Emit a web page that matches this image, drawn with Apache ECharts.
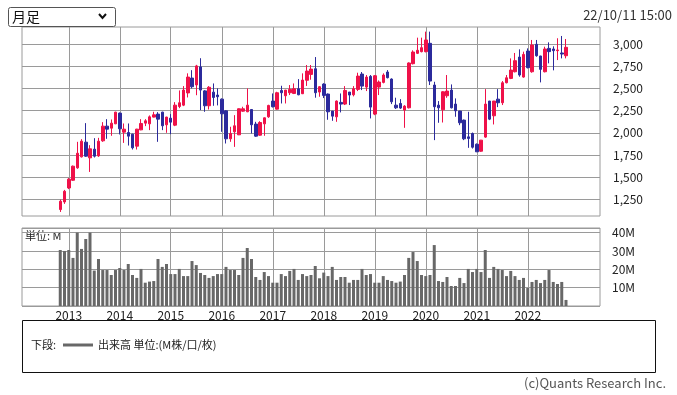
<!DOCTYPE html>
<html><head><meta charset="utf-8">
<script src="https://cdn.jsdelivr.net/npm/echarts@6/dist/echarts.min.js"></script>
<style>html,body{margin:0;padding:0;background:#fff}#c{width:677px;height:395px}</style>
</head><body><div id="c"></div>
<script>
function ymLabel(start, k) {
  const t = start[0] * 12 + (start[1] - 1) + k;
  return Math.floor(t / 12) + '/' + String(t % 12 + 1).padStart(2, '0');
}
// Axis categories (monthly), data months (Nov 2012 - Oct 2022)
const axisMonths = Array.from({length: 137}, (_, k) => ymLabel([2012, 2], k));
const dataMonths = Array.from({length: 120}, (_, i) => ymLabel([2012, 11], i));
const yearTicks = ['2013','2014','2015','2016','2017','2018','2019','2020','2021','2022'];

const openP = [1134,1220,1378,1465,1605,1729,1895,1718,1816,1740,
1910,2076,2053,2102,2223,2008,2004,1985,1850,2034,
2110,2102,2178,2212,2234,2091,2166,2087,2298,2313,
2451,2619,2541,2745,2474,2306,2460,2427,2381,2249,
1933,2012,1978,2245,2238,2264,2099,1974,2102,2181,
2359,2268,2479,2419,2453,2445,2498,2442,2594,2660,
2724,2461,2551,2438,2246,2181,2344,2325,2461,2430,
2491,2664,2517,2638,2212,2517,2570,2687,2608,2313,
2332,2257,2283,2781,2898,2917,2917,3011,2540,2313,
2261,2419,2483,2325,2246,2144,1955,1993,1872,1793,
1952,2359,2193,2381,2340,2566,2615,2690,2856,2630,
2924,2690,3000,2868,2690,2954,2947,2928,2902,2871];
const closeP = [1228,1341,1477,1624,1770,1906,1737,1820,1737,1906,
2076,2042,2110,2234,2046,2042,1963,1831,2042,2106,
2136,2181,2204,2155,2080,2178,2121,2313,2340,2483,
2630,2521,2756,2483,2306,2515,2400,2408,2215,1933,
1993,2080,2272,2272,2313,2091,1963,2117,2170,2310,
2295,2453,2453,2483,2491,2498,2430,2596,2698,2720,
2453,2521,2423,2238,2189,2359,2325,2479,2427,2498,
2641,2528,2630,2291,2645,2574,2653,2623,2351,2283,
2280,2302,2789,2913,2932,2962,3049,2585,2295,2283,
2464,2472,2283,2249,2114,1933,1937,1838,1786,1918,
2325,2155,2359,2340,2566,2622,2709,2815,2653,2886,
2736,2992,2871,2717,2947,2917,2928,2936,2890,2966];
const lowP = [1107,1198,1365,1458,1595,1722,1729,1559,1722,1729,
1899,1933,1967,2099,1982,1887,1857,1812,1812,2030,
2076,2031,2174,1899,2031,2001,1985,2076,2279,2302,
2400,2502,2425,2257,2238,2264,2306,2310,2012,1880,
1899,1842,1975,2238,2234,1993,1955,1967,1967,2170,
2287,2264,2332,2332,2427,2438,2425,2438,2530,2600,
2397,2408,2393,2148,2136,2125,2231,2314,2314,2412,
2472,2483,2472,2163,2200,2427,2559,2615,2325,2270,
2270,2057,2276,2773,2890,2909,2909,2540,1918,2114,
2117,2396,2276,2182,2087,1918,1831,1823,1786,1786,
1944,2144,2095,2291,2314,2559,2607,2683,2634,2623,
2728,2679,2860,2570,2683,2785,2706,2822,2841,2841];
const highP = [1247,1356,1490,1631,1899,1929,2110,1861,1940,1944,
2121,2155,2151,2238,2230,2106,2106,1990,2046,2155,
2155,2197,2238,2234,2238,2182,2212,2347,2479,2528,
2672,2708,2768,2843,2483,2528,2558,2502,2389,2257,
2069,2200,2276,2295,2502,2268,2125,2132,2174,2317,
2445,2464,2532,2485,2540,2558,2607,2672,2766,2766,
2856,2528,2560,2445,2246,2366,2445,2528,2461,2528,
2679,2687,2653,2653,2653,2592,2672,2709,2615,2397,
2381,2313,2796,2932,3075,3075,3143,3143,2577,2359,
2470,2653,2547,2389,2249,2150,2238,2004,1880,1920,
2494,2361,2361,2494,2585,2653,2841,2902,2943,2917,
2954,3049,3049,2870,2973,3022,2977,3068,3094,3060];
const volumeM = [30.5,30.0,30.5,26.2,40.0,31.1,36.5,40.0,19.3,25.6,
19.6,19.6,16.9,19.6,20.7,19.6,22.9,16.9,15.3,20.2,
12.7,13.3,13.6,25.6,21.3,22.9,17.4,17.4,20.2,16.3,
16.3,24.5,22.3,18.0,16.9,15.3,16.3,17.4,17.4,21.3,
19.6,19.6,16.9,26.2,31.6,25.6,15.8,14.2,18.5,16.3,
12.7,12.7,17.4,16.3,19.1,20.2,14.2,17.4,16.3,16.9,
21.8,15.1,18.2,16.3,21.3,14.2,15.8,15.8,12.7,14.2,
14.2,20.2,16.9,17.4,12.7,12.7,16.3,14.2,13.6,12.7,
13.3,16.9,26.2,29.4,24.5,16.9,16.3,16.9,33.2,13.6,
13.1,15.8,10.9,10.9,15.3,12.5,20.2,18.5,20.2,18.5,
30.5,15.3,21.3,20.2,19.6,16.3,19.1,16.3,14.2,15.3,
9.8,13.1,14.2,12.5,14.2,19.6,13.1,12.0,13.1,3.3];

const FONT = '"Noto Sans CJK JP", "Noto Sans", sans-serif';
const UP = '#ef1149', DOWN = '#2b2a9c', GRIDC = '#9a9a9a';
const isYearStart = (v) => yearTicks.some(y => v === y + '/01');
const T = 'rgba(0,0,0,0)';

const chart = echarts.init(document.getElementById('c'), null, {renderer: 'canvas'});
chart.setOption({
  animation: false,
  textStyle: {fontFamily: FONT},
  grid: [
    {left: 22, top: 22.16, width: 578, height: 199.28, show: false},
    {left: 22, top: 228, width: 578, height: 78, show: true, borderColor: GRIDC, borderWidth: 1, backgroundColor: T},
    {left: 22, top: 27, width: 578, height: 189, show: true, borderColor: GRIDC, borderWidth: 1, backgroundColor: T}
  ],
  xAxis: [
    {gridIndex: 0, type: 'category', data: axisMonths, boundaryGap: false, show: false},
    {gridIndex: 1, type: 'category', data: axisMonths, boundaryGap: false,
      axisLine: {show: false}, axisTick: {show: false},
      axisLabel: {interval: (i, v) => isYearStart(v), formatter: v => v.slice(0, 4),
        color: '#222', fontSize: 12, margin: 3, fontFamily: FONT},
      splitLine: {show: true, interval: (i, v) => isYearStart(v), lineStyle: {color: GRIDC, width: 1}}},
    {gridIndex: 2, type: 'category', data: axisMonths, boundaryGap: false,
      axisLine: {show: false}, axisTick: {show: false}, axisLabel: {show: false},
      splitLine: {show: true, interval: (i, v) => isYearStart(v), lineStyle: {color: GRIDC, width: 1}}}
  ],
  yAxis: [
    {gridIndex: 0, type: 'value', position: 'right', min: 1000, max: 3250, interval: 250,
      axisLine: {show: false}, axisTick: {show: false},
      axisLabel: {showMinLabel: false, showMaxLabel: false, margin: 13, color: '#222', fontSize: 12,
        formatter: v => v.toLocaleString('en-US'), fontFamily: FONT},
      splitLine: {show: true, lineStyle: {width: 1,
        color: [T, GRIDC, GRIDC, GRIDC, GRIDC, GRIDC, GRIDC, GRIDC, GRIDC, T]}}},
    {gridIndex: 1, type: 'value', position: 'right', min: 0, max: 42.5, interval: 10,
      axisLine: {show: false}, axisTick: {show: false},
      axisLabel: {showMinLabel: false, showMaxLabel: false, margin: 12, color: '#222', fontSize: 12,
        formatter: v => v + 'M', fontFamily: FONT},
      splitLine: {show: true, lineStyle: {color: GRIDC, width: 1}}},
    {gridIndex: 2, type: 'value', show: false, splitLine: {show: false}}
  ],
  series: [
    {type: 'candlestick', xAxisIndex: 0, yAxisIndex: 0, barWidth: 3,
      encode: {x: 0, y: [1, 2, 3, 4]},
      data: dataMonths.map((m, i) => [m, openP[i], closeP[i], lowP[i], highP[i]]),
      itemStyle: {color: UP, color0: DOWN, borderColor: UP, borderColor0: DOWN, borderWidth: 1}},
    {type: 'bar', xAxisIndex: 1, yAxisIndex: 1, barWidth: 3,
      data: dataMonths.map((m, i) => [m, volumeM[i]]),
      itemStyle: {color: '#686868'}}
  ],
  graphic: [
    {type: 'rect', shape: {x: 8.5, y: 7.5, width: 107, height: 19, r: 2},
      style: {fill: '#fff', stroke: '#555', lineWidth: 1}},
    {type: 'text', x: 12, y: 17, style: {text: '月足', font: '14px ' + FONT, fill: '#111', textVerticalAlign: 'middle'}},
    {type: 'polyline', shape: {points: [[99, 14], [102.5, 18], [106, 14]]},
      style: {stroke: '#111', lineWidth: 2, fill: null}},
    {type: 'text', x: 672, y: 15, style: {text: '22/10/11 15:00', font: '13px ' + FONT, fill: '#333', textAlign: 'right', textVerticalAlign: 'middle'}},
    {type: 'text', x: 25, y: 236, style: {text: '単位: M', font: '11px ' + FONT, fill: '#222', textVerticalAlign: 'middle'}},
    {type: 'rect', shape: {x: 22.5, y: 320.5, width: 633, height: 52},
      style: {fill: T, stroke: '#111', lineWidth: 1}},
    {type: 'text', x: 31, y: 345, style: {text: '下段:', font: '11px ' + FONT, fill: '#222', textVerticalAlign: 'middle'}},
    {type: 'line', shape: {x1: 63, y1: 345, x2: 93, y2: 345}, style: {stroke: '#686868', lineWidth: 3}},
    {type: 'text', x: 98, y: 345, style: {text: '出来高 単位:(M株/口/枚)', font: '11px ' + FONT, fill: '#222', textVerticalAlign: 'middle'}},
    {type: 'text', x: 666, y: 383, style: {text: '(c)Quants Research Inc.', font: '13px ' + FONT, fill: '#555', textAlign: 'right', textVerticalAlign: 'middle'}}
  ]
});
</script>
</body></html>
